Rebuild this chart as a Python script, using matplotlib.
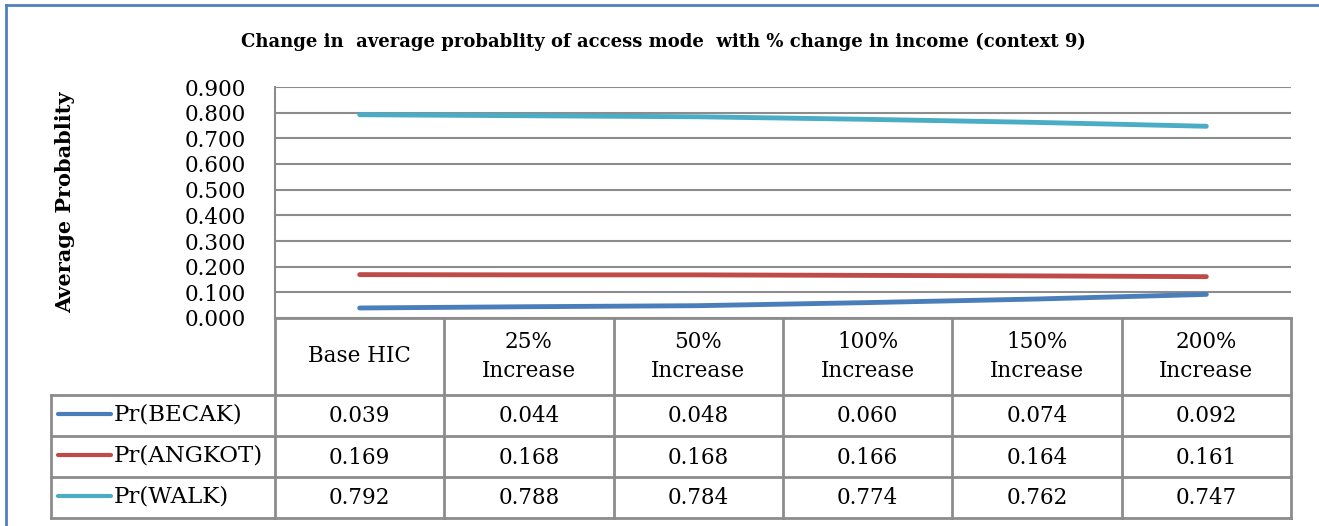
import matplotlib.pyplot as plt

# data
categories = ['Base HIC', '25%\nIncrease', '50%\nIncrease', '100%\nIncrease', '150%\nIncrease', '200%\nIncrease']
series_names = ['Pr(BECAK)', 'Pr(ANGKOT)', 'Pr(WALK)']
becak = [0.039, 0.044, 0.048, 0.060, 0.074, 0.092]
angkot = [0.169, 0.168, 0.168, 0.166, 0.164, 0.161]
walk = [0.792, 0.788, 0.784, 0.774, 0.762, 0.747]
colors = ['#4A7EBB', '#BE4B48', '#4BACC6']
yticks = [0.0, 0.1, 0.2, 0.3, 0.4, 0.5, 0.6, 0.7, 0.8, 0.9]

plt.rcParams['font.family'] = ['DejaVu Serif']
W, H = 1319, 526
fig = plt.figure(figsize=(W / 100, H / 100), dpi=100)

grid_c = '#8c8c8c'

# plot area (pixel box -> figure fraction)
px_l, px_r, px_t, px_b = 275, 1291, 87, 318
ax = fig.add_axes([px_l / W, 1 - px_b / H, (px_r - px_l) / W, (px_b - px_t) / H])
n = len(categories)
x = list(range(n))
for vals, c in zip([becak, angkot, walk], colors):
    ax.plot(x, vals, color=c, lw=3.5, solid_capstyle='round')
ax.set_xlim(-0.5, n - 0.5)
ax.set_ylim(0, 0.9)
ax.set_yticks(yticks)
ax.set_yticklabels([f'{v:.3f}' for v in yticks], fontsize=15.5)
ax.tick_params(axis='y', length=0, pad=21)
ax.set_xticks([])
for v in yticks:
    ax.axhline(v, color=grid_c, lw=1.5, zorder=0)
for s in ['top', 'right', 'bottom']:
    ax.spines[s].set_visible(False)
ax.spines['left'].set_color(grid_c)
ax.spines['left'].set_linewidth(1.5)
ax.set_ylabel('Average Probablity', fontsize=15, fontweight='bold')
ax.yaxis.set_label_coords(-0.197, 0.5)

# data table below the plot
tab_l, tab_b = 51, 518
head_b = 395
tb = fig.add_axes([0, 0, 1, 1], facecolor='none')
tb.set_xlim(0, W)
tb.set_ylim(H, 0)
tb.axis('off')
cw = (px_r - px_l) / n
rh = (tab_b - head_b) / len(series_names)
lk = dict(color=grid_c, lw=2)
tb.plot([px_l, px_r], [px_b, px_b], **lk)
for i in range(n + 1):
    tb.plot([px_l + i * cw] * 2, [px_b, tab_b], **lk)
for j in range(len(series_names) + 1):
    tb.plot([tab_l, px_r], [head_b + j * rh] * 2, **lk)
tb.plot([tab_l, tab_l], [head_b, tab_b], **lk)
for i, cat in enumerate(categories):
    tb.text(px_l + (i + 0.5) * cw, (px_b + head_b) / 2, cat, ha='center', va='center',
            fontsize=15.5, linespacing=1.4)
for j, (name, vals, c) in enumerate(zip(series_names, [becak, angkot, walk], colors)):
    yc = head_b + (j + 0.5) * rh
    tb.plot([58, 111], [yc - 2, yc - 2], color=c, lw=3, solid_capstyle='round')
    tb.text(114, yc - 1, name, ha='left', va='center', fontsize=16.5)
    for i, v in enumerate(vals):
        tb.text(px_l + (i + 0.5) * cw, yc + 1, f'{v:.3f}', ha='center', va='center', fontsize=15.5)

# title
tb.text(663, 42, 'Change in  average probablity of access mode  with % change in income (context 9)',
        ha='center', va='center', fontsize=13, fontweight='bold')

# chart border
tb.plot([6, W], [5, 5], color='#4F81BD', lw=2)
tb.plot([6, 6], [5, H], color='#4F81BD', lw=2)

fig.savefig('out.png', dpi=100)
